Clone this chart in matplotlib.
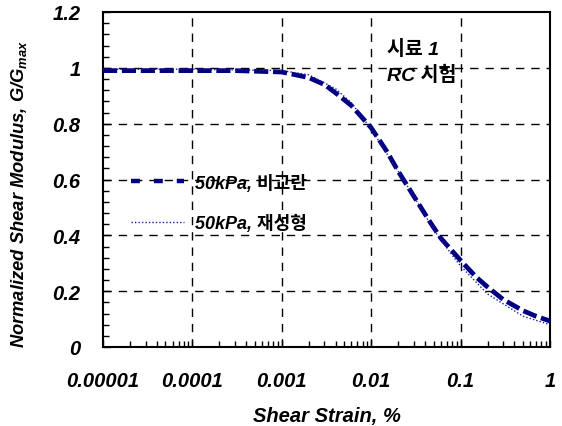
import matplotlib
matplotlib.use("Agg")
import matplotlib.pyplot as plt
from matplotlib.lines import Line2D
from matplotlib.ticker import AutoMinorLocator, LogLocator, FixedLocator, NullFormatter

plt.rcParams['font.family'] = ['Liberation Sans', 'Noto Sans CJK KR']
plt.rcParams['mathtext.fontset'] = 'custom'
plt.rcParams['mathtext.rm'] = 'Liberation Sans:bold:italic'
plt.rcParams['mathtext.it'] = 'Liberation Sans:bold:italic'
plt.rcParams['mathtext.bf'] = 'Liberation Sans:bold:italic'

# Data
strain_und = [1e-5, 3e-5, 1e-4, 3e-4, 1e-3, 2e-3, 3e-3, 4e-3, 6e-3, 8e-3, 0.01,
              0.015, 0.02, 0.03, 0.045, 0.06, 0.1, 0.15, 0.2, 0.3, 0.5, 0.7, 1.0]
g_und = [0.99, 0.99, 0.99, 0.99, 0.985, 0.965, 0.94, 0.91, 0.865, 0.82, 0.785,
         0.70, 0.63, 0.54, 0.45, 0.39, 0.31, 0.25, 0.215, 0.17, 0.13, 0.11, 0.093]

strain_rem = [1e-5, 1e-4, 1e-3, 2e-3, 4e-3, 6e-3, 0.01, 0.02, 0.03, 0.05,
              0.08, 0.1, 0.2, 0.5, 1.0]
g_rem = [0.995, 0.995, 0.99, 0.975, 0.925, 0.875, 0.78, 0.63, 0.54, 0.42,
         0.33, 0.29, 0.19, 0.11, 0.08]

label_und = "50kPa, 비교란"
label_rem = "50kPa, 재성형"
xticks = [1e-5, 1e-4, 1e-3, 1e-2, 1e-1, 1]
xticklabels = ["0.00001", "0.0001", "0.001", "0.01", "0.1", "1"]
yticks = [0, 0.2, 0.4, 0.6, 0.8, 1.0, 1.2]
yticklabels = ["0", "0.2", "0.4", "0.6", "0.8", "1", "1.2"]

navy = "#000080"

fig = plt.figure(figsize=(5.62, 4.27), dpi=100)
ax = fig.add_axes([103/562, 1 - 348/427, (550-103)/562, (348-13)/427])

ax.set_xscale('log')
ax.set_xlim(1e-5, 1)
ax.set_ylim(0, 1.2)

ax.plot(strain_und, g_und, color=navy, lw=3.4, dashes=(3, 1.0), zorder=3)
ax.plot(strain_rem, g_rem, color="#1a1aa0", lw=1.0, linestyle=(0, (1, 1.5)), zorder=3)

# grid
for x in xticks[1:-1]:
    ax.axvline(x, color='black', lw=1.0, dashes=(6, 5), zorder=1)
for y in yticks[1:-1]:
    ax.axhline(y, color='black', lw=1.0, dashes=(6, 5), zorder=1)

ax.xaxis.set_major_locator(FixedLocator(xticks))
ax.set_xticklabels(xticklabels)
ax.xaxis.set_minor_locator(LogLocator(base=10, subs=range(2, 10), numticks=20))
ax.xaxis.set_minor_formatter(NullFormatter())
ax.set_yticks(yticks)
ax.set_yticklabels(yticklabels)
ax.yaxis.set_minor_locator(AutoMinorLocator(5))

ax.tick_params(which='both', direction='in', width=1.0)
ax.tick_params(which='minor', length=4)
ax.tick_params(axis='y', which='both', right=False)
ax.tick_params(axis='y', which='major', length=5, pad=16)
ax.tick_params(axis='x', which='both', top=False)
ax.tick_params(axis='x', which='major', length=5, pad=17)

for lab in ax.get_xticklabels() + ax.get_yticklabels():
    lab.set_fontsize(14.5)
    lab.set_fontweight('bold')
    lab.set_fontstyle('italic')

for sp in ax.spines.values():
    sp.set_linewidth(1.5)

ax.set_xlabel("Shear Strain, %", fontsize=14.5, fontweight='bold', fontstyle='italic', labelpad=12)
ax.set_ylabel(r"Normalized Shear Modulus, G/G$_{\rm max}$", fontsize=13.2,
              fontweight='bold', fontstyle='italic')
ax.yaxis.set_label_coords(-0.165, 0.46)

handles = [Line2D([], [], color=navy, lw=3.2, dashes=(2.0, 3.15)),
           Line2D([], [], color="#1a1aa0", lw=1.0, linestyle=(0, (1, 1.5)))]
leg = ax.legend(handles, [label_und, label_rem], loc='upper left',
                bbox_to_anchor=(0.027, 0.566), frameon=False, handlelength=2.9,
                handletextpad=0.6, labelspacing=1.25,
                prop={'family': ['Liberation Sans', 'Noto Sans CJK KR'],
                      'weight': 'bold', 'style': 'italic', 'size': 13})

ax.text(0.635, 0.89, "시료 1", transform=ax.transAxes, fontsize=14,
        fontweight='bold', fontstyle='italic', ha='left', va='center')
ax.text(0.635, 0.815, "RC 시험", transform=ax.transAxes, fontsize=14,
        fontweight='bold', fontstyle='italic', ha='left', va='center')

fig.savefig("out.png", dpi=100)
